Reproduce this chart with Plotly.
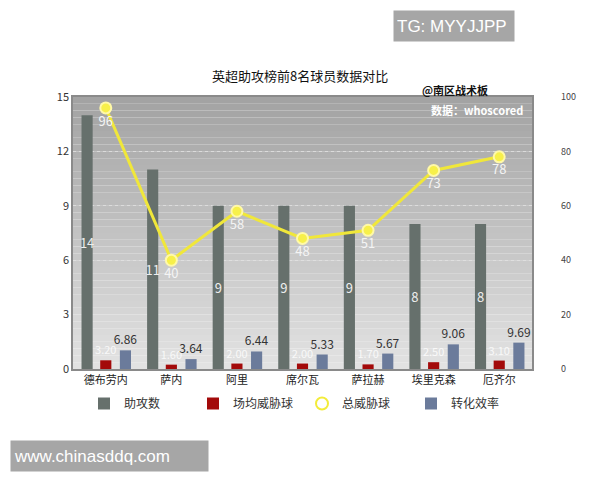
import plotly.graph_objects as go

# Top-8 Premier League assist providers
players = ["德布劳内", "萨内", "阿里", "席尔瓦", "萨拉赫", "埃里克森", "厄齐尔"]
assists = [14, 11, 9, 9, 9, 8, 8]
threat_per_game = [3.20, 1.60, 2.00, 2.00, 1.70, 2.50, 3.10]
total_threat = [96, 40, 58, 48, 51, 73, 78]
conversion = [6.86, 3.64, 6.44, 5.33, 5.67, 9.06, 9.69]

left_ticks = [0, 3, 6, 9, 12, 15]
right_ticks = [0, 20, 40, 60, 80, 100]

FONT = "Noto Sans CJK SC"
BAR_W = 0.17
YELLOW = "#f0e73a"

fig = go.Figure()

fig.add_trace(go.Bar(
    x=players, y=assists, name="助攻数", yaxis="y",
    marker=dict(color="#66706c", line=dict(width=0)),
    width=BAR_W, offset=-0.37,
    text=[str(v) for v in assists], textposition="inside",
    insidetextanchor="middle", constraintext="none",
    textfont=dict(color="#eeeeee", size=13, family=FONT),
))

fig.add_trace(go.Bar(
    x=players, y=threat_per_game, name="场均威胁球", yaxis="y2",
    marker=dict(color="#a30a0a", line=dict(width=0)),
    width=BAR_W, offset=-0.085,
    text=[f"{v:.2f}" for v in threat_per_game], textposition="outside",
    constraintext="none",
    textfont=dict(color="rgba(255,255,255,0.8)", size=11, family=FONT),
    cliponaxis=False,
))

fig.add_trace(go.Scatter(
    x=players, y=total_threat, name="总威胁球", yaxis="y2",
    mode="lines+markers+text", showlegend=False,
    line=dict(color=YELLOW, width=3),
    marker=dict(color="#f7f04a", size=11, line=dict(color="#fff9a8", width=2)),
    text=[str(v) for v in total_threat], textposition="bottom center",
    textfont=dict(color="#f4f4f4", size=13, family=FONT),
    cliponaxis=False,
))
# legend key for the line series: open yellow ring
fig.add_trace(go.Scatter(
    x=[None], y=[None], name="总威胁球", yaxis="y2", mode="markers",
    marker=dict(symbol="circle-open", color="#f3ec3a", size=10,
                line=dict(width=3)),
))

fig.add_trace(go.Bar(
    x=players, y=conversion, name="转化效率", yaxis="y2",
    marker=dict(color="#6b7b9b", line=dict(width=0)),
    width=BAR_W, offset=0.215,
    text=[f"{v:.2f}" for v in conversion], textposition="outside",
    constraintext="none",
    textfont=dict(color="#333333", size=12, family=FONT),
    cliponaxis=False,
))

# Vertical grey gradient behind the plotting area
shapes = []
n_bands = 40
top_rgb = (163, 163, 163)
bot_rgb = (226, 226, 226)
for i in range(n_bands):
    t = i / (n_bands - 1)
    c = tuple(round(top_rgb[k] + (bot_rgb[k] - top_rgb[k]) * t) for k in range(3))
    shapes.append(dict(
        type="rect", xref="x domain", yref="y domain",
        x0=0, x1=1, y0=1 - (i + 1) / n_bands, y1=1 - i / n_bands,
        fillcolor=f"rgb{c}", line=dict(width=0), layer="below",
    ))

PW, PH, L, T = 459, 272, 73, 97


def px(x):
    return (x - L) / PW


def py(y):
    return (T + PH - y) / PH


annotations = [
    dict(text="英超助攻榜前8名球员数据对比", xref="paper", yref="paper",
         x=px(300), y=py(75), showarrow=False, yanchor="middle",
         font=dict(size=13, color="#111111", family=FONT)),
    dict(text="<b>@南区战术板</b>", xref="paper", yref="paper",
         x=px(490), y=py(90), showarrow=False, yanchor="middle",
         font=dict(size=11, color="#111111", family=FONT)),
    dict(text="<b>数据：whoscored</b>", xref="paper", yref="paper",
         x=px(525), y=py(110), xanchor="right", yanchor="middle", showarrow=False,
         font=dict(size=11, color="#ffffff", family=FONT)),
    dict(text="TG: MYYJJPP", xref="paper", yref="paper",
         x=px(393), y=py(10), xanchor="left", yanchor="top", showarrow=False,
         width=114, height=24, bgcolor="#a6a6a6", borderpad=3, align="left",
         font=dict(size=17, color="#ffffff", family="Liberation Sans")),
    dict(text="www.chinasddq.com", xref="paper", yref="paper",
         x=px(10), y=py(440), xanchor="left", yanchor="top", showarrow=False,
         width=191, height=24, bgcolor="#a6a6a6", borderpad=3, align="left",
         font=dict(size=17, color="#ffffff", family="Liberation Sans")),
]

fig.update_layout(
    width=600, height=480,
    margin=dict(l=L, r=600 - L - PW, t=T, b=480 - T - PH, autoexpand=False),
    paper_bgcolor="#ffffff", plot_bgcolor="rgba(0,0,0,0)",
    barmode="overlay",
    showlegend=True,
    legend=dict(orientation="h", xref="container", x=84 / 600, xanchor="left",
                yref="container", y=1 - 389 / 480, yanchor="top",
                entrywidth=64, entrywidthmode="pixels",
                font=dict(size=12, color="#333333", family=FONT),
                itemsizing="constant", traceorder="normal"),
    xaxis=dict(type="category", showgrid=False, ticks="",
               tickfont=dict(size=11, color="#222222", family=FONT),
               showline=True, linecolor="#8a8a8a", linewidth=1.5, mirror=True),
    yaxis=dict(range=[0, 15], tickvals=left_ticks, ticks="",
               tickfont=dict(size=11, color="#333333", family=FONT),
               showgrid=True, gridcolor="rgba(225,225,225,0.8)", griddash="dot",
               zeroline=False, showline=True, linecolor="#8a8a8a",
               linewidth=1.5, mirror=True),
    yaxis2=dict(range=[0, 100], tickvals=right_ticks, overlaying="y",
                side="right", ticks="", showgrid=False, zeroline=False,
                ticklabelstandoff=28,
                tickfont=dict(size=9, color="#444444", family=FONT)),
    shapes=shapes,
    annotations=annotations,
)

fig.write_html("out.html", config={"displayModeBar": False})
